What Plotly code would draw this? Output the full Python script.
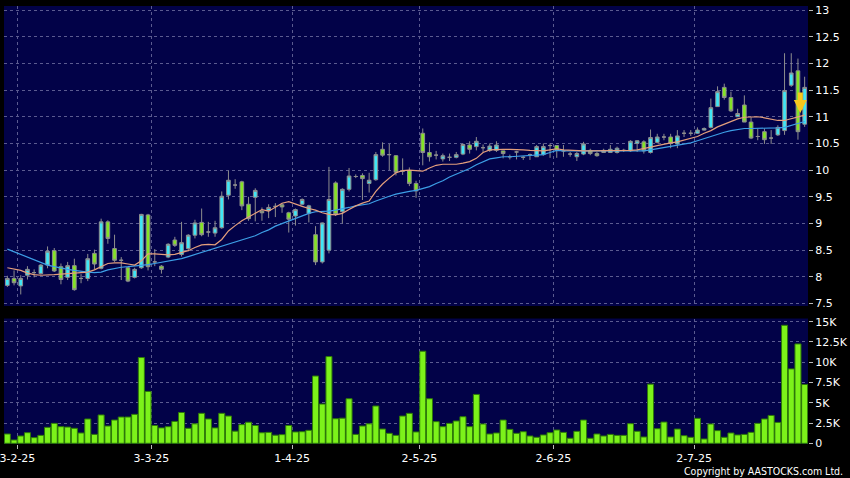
import plotly.graph_objects as go
from plotly.subplots import make_subplots

# ---------------- data ----------------
bar_index = list(range(120))

date_bar_index = [2, 22, 43, 62, 82, 103]
date_labels = ["3-2-25", "3-3-25", "1-4-25", "2-5-25", "2-6-25", "2-7-25"]

open_ = [7.84, 7.97, 7.83, 8.03, 8.08, 8.06, 8.22, 8.49, 8.19, 7.99,
         8.21, 7.97, 7.97, 8.44, 8.16, 9.03, 8.53, 8.31, 8.17, 7.99,
         8.17, 9.16, 8.28, 8.20, 8.37, 8.69, 8.42, 8.53, 8.78, 9.02,
         8.84, 8.82, 8.92, 9.53, 9.72, 9.78, 9.36, 9.49, 9.23, 9.24,
         9.32, 9.35, 9.20, 9.14, 9.36, 9.19, 8.79, 8.28, 8.50, 9.76,
         9.22, 9.64, 9.88, 9.90, 9.75, 9.82, 10.39, 10.29, 10.27, 9.98,
         9.99, 9.75, 10.69, 10.33, 10.28, 10.21, 10.24, 10.24, 10.30, 10.47,
         10.44, 10.42, 10.37, 10.37, 10.36, 10.25, 10.34, 10.24, 10.29, 10.25,
         10.29, 10.46, 10.46, 10.36, 10.30, 10.25, 10.30, 10.37, 10.31, 10.33,
         10.33, 10.33, 10.37, 10.36, 10.50, 10.53, 10.33, 10.52, 10.62, 10.62,
         10.49, 10.69, 10.69, 10.69, 10.75, 10.80, 11.19, 11.55, 11.36, 11.00,
         11.22, 10.90, 10.63, 10.72, 10.60, 10.66, 10.74, 11.59, 11.86, 10.86]

close = [7.97, 7.89, 7.97, 8.14, 8.08, 8.22, 8.48, 8.11, 7.95, 8.21,
         7.76, 7.97, 8.34, 8.24, 9.03, 8.72, 8.31, 8.31, 7.92, 8.14,
         9.17, 8.19, 8.28, 8.14, 8.61, 8.59, 8.64, 8.78, 9.01, 8.79,
         8.84, 8.92, 9.51, 9.81, 9.72, 9.33, 9.09, 9.62, 9.20, 9.30,
         9.32, 9.31, 9.08, 9.26, 9.45, 9.33, 8.28, 9.01, 9.45, 9.17,
         9.64, 9.89, 9.88, 9.84, 9.81, 10.29, 10.28, 10.29, 9.96, 9.98,
         9.75, 9.61, 10.33, 10.25, 10.28, 10.27, 10.24, 10.29, 10.48, 10.39,
         10.54, 10.42, 10.45, 10.47, 10.31, 10.25, 10.34, 10.24, 10.29, 10.44,
         10.44, 10.46, 10.37, 10.36, 10.30, 10.31, 10.49, 10.31, 10.27, 10.37,
         10.39, 10.41, 10.37, 10.54, 10.55, 10.36, 10.61, 10.62, 10.62, 10.50,
         10.64, 10.69, 10.69, 10.75, 10.78, 11.17, 11.47, 11.36, 11.11, 11.06,
         10.90, 10.60, 10.63, 10.57, 10.60, 10.80, 11.49, 11.82, 10.72, 11.55]

high = [8.02, 8.12, 8.03, 8.20, 8.14, 8.24, 8.57, 8.54, 8.25, 8.28,
        8.34, 8.05, 8.43, 8.51, 9.09, 9.06, 8.79, 8.37, 8.19, 8.17,
        9.18, 9.18, 8.52, 8.22, 8.63, 8.75, 9.03, 8.80, 9.07, 9.28,
        9.03, 9.05, 9.60, 9.99, 9.83, 9.80, 9.50, 9.66, 9.30, 9.36,
        9.38, 9.38, 9.22, 9.28, 9.47, 9.35, 8.95, 9.02, 10.06, 9.79,
        9.66, 10.04, 9.92, 9.94, 9.95, 10.34, 10.52, 10.49, 10.28, 10.22,
        10.05, 9.80, 10.78, 10.52, 10.36, 10.31, 10.31, 10.34, 10.50, 10.54,
        10.62, 10.48, 10.50, 10.54, 10.36, 10.29, 10.36, 10.26, 10.31, 10.47,
        10.50, 10.50, 10.46, 10.47, 10.34, 10.34, 10.53, 10.40, 10.34, 10.40,
        10.47, 10.44, 10.40, 10.56, 10.56, 10.56, 10.76, 10.68, 10.68, 10.68,
        10.75, 10.75, 10.75, 10.80, 10.80, 11.34, 11.57, 11.62, 11.47, 11.15,
        11.40, 10.99, 10.78, 10.78, 10.75, 10.84, 12.19, 12.19, 12.09, 11.75]

low = [7.81, 7.84, 7.67, 7.95, 7.99, 8.04, 8.16, 8.09, 7.86, 7.94,
       7.74, 7.88, 7.92, 8.14, 8.14, 8.62, 8.28, 7.94, 7.90, 7.97,
       8.15, 8.12, 8.20, 8.06, 8.35, 8.56, 8.38, 8.48, 8.72, 8.76,
       8.75, 8.75, 8.90, 9.45, 9.65, 9.25, 9.05, 9.04, 9.05, 9.10,
       9.12, 9.20, 8.83, 8.96, 9.34, 9.02, 8.22, 8.25, 8.44, 9.14,
       9.00, 9.60, 9.85, 9.44, 9.58, 9.80, 10.25, 10.00, 9.90, 9.91,
       9.70, 9.48, 10.09, 10.16, 10.20, 10.16, 10.17, 10.22, 10.28, 10.31,
       10.37, 10.34, 10.34, 10.34, 10.22, 10.20, 10.20, 10.19, 10.19, 10.25,
       10.27, 10.23, 10.23, 10.25, 10.25, 10.17, 10.28, 10.28, 10.25, 10.32,
       10.32, 10.31, 10.34, 10.34, 10.34, 10.31, 10.31, 10.50, 10.56, 10.41,
       10.41, 10.62, 10.64, 10.68, 10.74, 10.78, 11.19, 11.32, 11.09, 11.00,
       10.90, 10.58, 10.56, 10.49, 10.49, 10.64, 10.66, 11.56, 10.57, 10.81]

volume_k = [1.15, 0.41, 0.90, 1.31, 0.70, 0.98, 1.97, 2.46, 2.05, 2.00,
            1.85, 1.27, 3.00, 1.10, 3.50, 2.13, 2.87, 3.24, 3.24, 3.57,
            10.58, 6.40, 2.20, 1.90, 2.05, 2.70, 3.80, 1.85, 2.40, 3.70,
            3.00, 1.90, 3.70, 3.36, 1.50, 2.30, 2.60, 2.20, 1.30, 1.35,
            1.00, 1.07, 2.20, 1.40, 1.43, 1.60, 8.30, 4.84, 10.70, 3.03,
            3.10, 5.50, 1.10, 2.13, 2.40, 4.60, 1.76, 1.23, 0.98, 3.36,
            3.70, 1.40, 11.36, 5.50, 2.67, 2.05, 2.46, 2.75, 3.28, 2.05,
            6.03, 2.38, 1.15, 1.27, 2.87, 1.72, 1.23, 1.43, 0.90, 0.74,
            1.03, 1.31, 1.64, 1.35, 0.62, 1.48, 2.87, 0.62, 1.15, 0.90,
            1.10, 0.98, 0.98, 2.42, 1.48, 0.78, 7.30, 1.80, 2.62, 0.78,
            1.76, 0.94, 0.74, 3.08, 0.53, 2.38, 1.56, 0.74, 1.27, 1.03,
            1.10, 1.35, 2.46, 3.00, 3.44, 2.58, 14.56, 9.18, 12.26, 7.26]

ma_short = [8.17, 8.15, 8.12, 8.07, 8.04, 8.03, 8.03, 8.04, 8.05, 8.06,
            8.07, 8.07, 8.09, 8.13, 8.19, 8.25, 8.26, 8.26, 8.24, 8.22,
            8.30, 8.43, 8.43, 8.42, 8.41, 8.42, 8.45, 8.49, 8.55, 8.60,
            8.61, 8.60, 8.70, 8.86, 8.96, 9.05, 9.12, 9.19, 9.26, 9.23,
            9.30, 9.38, 9.41, 9.36, 9.32, 9.28, 9.25, 9.20, 9.17, 9.16,
            9.19, 9.26, 9.33, 9.38, 9.42, 9.60, 9.74, 9.85, 9.95, 9.99,
            10.00, 9.99, 9.98, 10.04, 10.09, 10.11, 10.11, 10.11, 10.13, 10.16,
            10.22, 10.33, 10.38, 10.39, 10.39, 10.39, 10.39, 10.38, 10.37, 10.36,
            10.36, 10.38, 10.40, 10.38, 10.37, 10.36, 10.36, 10.36, 10.36, 10.36,
            10.36, 10.36, 10.36, 10.37, 10.38, 10.40, 10.43, 10.46, 10.49, 10.51,
            10.53, 10.56, 10.59, 10.63, 10.69, 10.74, 10.81, 10.86, 10.91, 10.96,
            10.99, 11.00, 11.00, 10.98, 10.96, 10.93, 10.93, 10.96, 10.99, 11.03]

ma_long = [8.52, 8.47, 8.41, 8.36, 8.31, 8.27, 8.22, 8.19, 8.16, 8.14,
           8.12, 8.10, 8.09, 8.08, 8.09, 8.13, 8.16, 8.18, 8.19, 8.20,
           8.21, 8.23, 8.25, 8.27, 8.29, 8.32, 8.34, 8.38, 8.42, 8.46,
           8.50, 8.53, 8.58, 8.62, 8.66, 8.69, 8.73, 8.77, 8.83, 8.88,
           8.95, 9.00, 9.04, 9.10, 9.15, 9.19, 9.22, 9.22, 9.23, 9.25,
           9.27, 9.30, 9.33, 9.35, 9.37, 9.42, 9.47, 9.51, 9.55, 9.58,
           9.60, 9.62, 9.65, 9.69, 9.75, 9.80, 9.87, 9.92, 9.97, 10.03,
           10.10, 10.16, 10.21, 10.23, 10.25, 10.25, 10.26, 10.26, 10.27, 10.28,
           10.29, 10.33, 10.37, 10.36, 10.36, 10.36, 10.36, 10.36, 10.36, 10.36,
           10.36, 10.36, 10.36, 10.36, 10.36, 10.36, 10.38, 10.40, 10.42, 10.44,
           10.46, 10.48, 10.51, 10.55, 10.59, 10.63, 10.68, 10.71, 10.74, 10.76,
           10.78, 10.78, 10.78, 10.78, 10.78, 10.79, 10.80, 10.84, 10.88, 10.91]

price_ticks = [7.5, 8, 8.5, 9, 9.5, 10, 10.5, 11, 11.5, 12, 12.5, 13]
price_tick_labels = ["7.5", "8", "8.5", "9", "9.5", "10", "10.5", "11", "11.5", "12", "12.5", "13"]
volume_ticks = [0, 2500, 5000, 7500, 10000, 12500, 15000]
volume_tick_labels = ["0", "2.5K", "5K", "7.5K", "10K", "12.5K", "15K"]

arrow_bar = 118.35
arrow_price = 11.07

# ---------------- styling ----------------
BG = "#020248"
GRID = "#5b5b90"
UP_FILL = "#3fe6f6"
DOWN_FILL = "#84e326"
FLAT_FILL = "#9a9a9a"
EDGE = "#8e8e8e"
FONT = "DejaVu Sans"

fig = make_subplots(rows=2, cols=1, shared_xaxes=True, vertical_spacing=0.0)

groups = {"up": ([], UP_FILL), "down": ([], DOWN_FILL), "flat": ([], FLAT_FILL)}
for i in bar_index:
    if close[i] > open_[i]:
        groups["up"][0].append(i)
    elif close[i] < open_[i]:
        groups["down"][0].append(i)
    else:
        groups["flat"][0].append(i)

for name, (ids, fill) in groups.items():
    fig.add_trace(go.Candlestick(
        x=ids,
        open=[open_[i] for i in ids],
        high=[high[i] for i in ids],
        low=[low[i] for i in ids],
        close=[close[i] for i in ids],
        increasing=dict(fillcolor=fill, line=dict(color=EDGE, width=1)),
        decreasing=dict(fillcolor=fill, line=dict(color=EDGE, width=1)),
        whiskerwidth=0,
        showlegend=False, hoverinfo="skip",
    ), row=1, col=1)

fig.add_trace(go.Scatter(x=bar_index, y=ma_long, mode="lines",
                         line=dict(color="#3d9fe6", width=1.2),
                         showlegend=False, hoverinfo="skip"), row=1, col=1)
fig.add_trace(go.Scatter(x=bar_index, y=ma_short, mode="lines",
                         line=dict(color="#e49f7c", width=1.2),
                         showlegend=False, hoverinfo="skip"), row=1, col=1)

fig.add_trace(go.Bar(x=bar_index, y=[v * 1000 for v in volume_k],
                     marker=dict(color="#7cf21a", line=dict(color="#2e7a08", width=1)),
                     showlegend=False, hoverinfo="skip"), row=2, col=1)

fig.add_annotation(x=arrow_bar, y=arrow_price, xref="x", yref="y",
                   text="", showarrow=True, ax=0, ay=-22,
                   arrowcolor="#f7c81e", arrowwidth=5, arrowhead=2, arrowsize=0.52)

fig.add_annotation(xref="paper", yref="paper", x=1.046, y=-0.062,
                   xanchor="right", yanchor="middle", showarrow=False,
                   text="Copyright by AASTOCKS.com Ltd.",
                   font=dict(family="DejaVu Sans Condensed", size=10.5, color="#ffffff"))

tickvals_x = [i - 0.5 for i in date_bar_index]
axis_font = dict(family=FONT, size=11, color="#ffffff")

common_x = dict(range=[-0.5, 119.5], showgrid=True, gridcolor=GRID, griddash="3px,3px",
                gridwidth=1, zeroline=False, showline=False, automargin=False,
                tickmode="array", tickvals=tickvals_x, ticktext=date_labels)
fig.update_xaxes(**common_x)
fig.update_xaxes(showticklabels=False, ticks="", rangeslider=dict(visible=False), row=1, col=1)
fig.update_xaxes(showticklabels=True, ticks="outside", ticklen=4, tickcolor="#bbbbbb",
                 tickfont=axis_font, ticklabeloverflow="allow", row=2, col=1)

fig.update_yaxes(domain=[0.315, 1.0], range=[7.453, 13.075], side="right", automargin=False,
                 tickmode="array", tickvals=price_ticks, ticktext=price_tick_labels,
                 showgrid=True, gridcolor=GRID, griddash="3px,3px", zeroline=False,
                 ticks="outside", ticklen=4, tickcolor="#bbbbbb", tickfont=axis_font,
                 row=1, col=1)
fig.update_yaxes(domain=[0.0, 0.2865], range=[-86, 15395], side="right", automargin=False,
                 tickmode="array", tickvals=volume_ticks, ticktext=volume_tick_labels,
                 showgrid=True, gridcolor=GRID, griddash="3px,3px", zeroline=False,
                 ticks="outside", ticklen=4, tickcolor="#bbbbbb", tickfont=axis_font,
                 row=2, col=1)

fig.update_layout(
    width=850, height=478,
    margin=dict(l=4, r=42, t=6, b=34, autoexpand=False),
    paper_bgcolor="#000000", plot_bgcolor=BG,
    boxgap=0.22, bargap=0.1,
    showlegend=False,
    font=dict(family=FONT, color="#ffffff"),
)

fig.write_html(
    "out.html",
    config={"displayModeBar": False, "staticPlot": True},
    post_script="document.body.style.margin='0';document.body.style.padding='0';"
                "document.body.style.background='#000';document.body.style.overflow='hidden';",
)
